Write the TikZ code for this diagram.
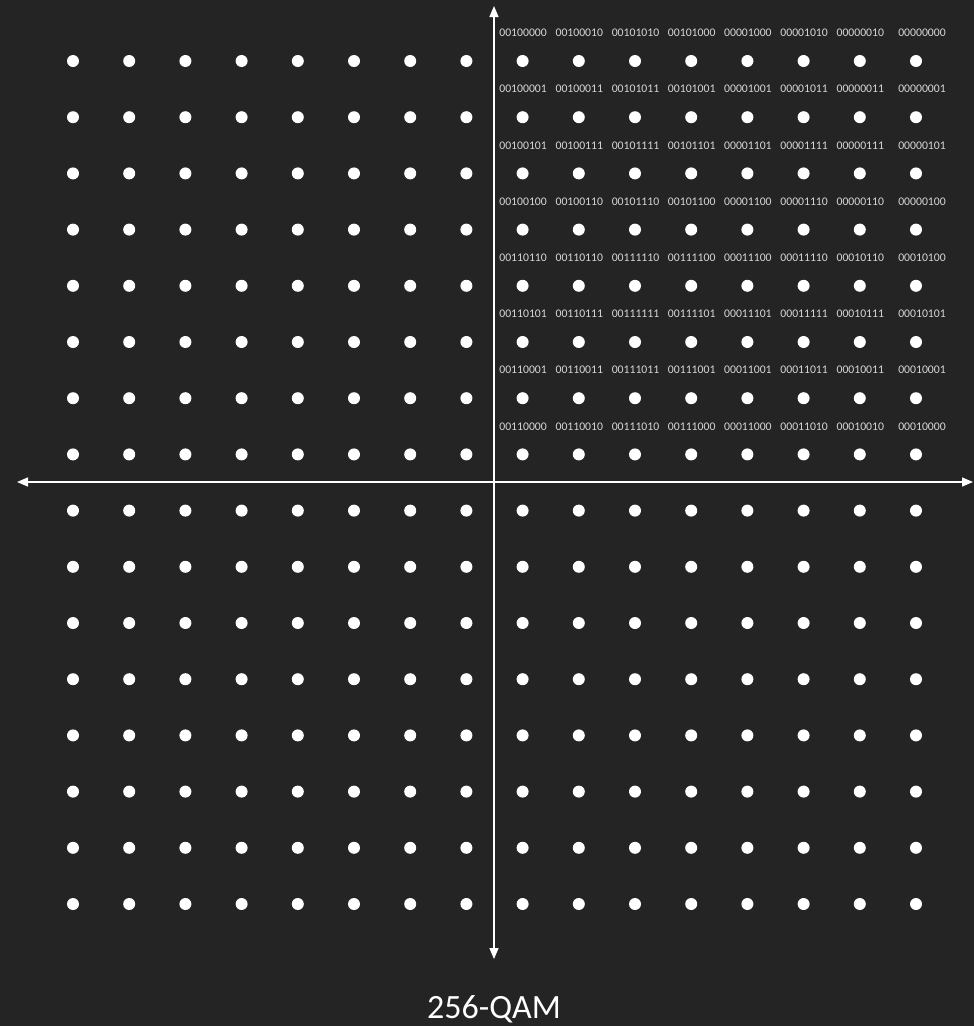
\documentclass[tikz,border=0pt]{standalone}
\usepackage{fontspec}
\setmainfont{Carlito}
\usetikzlibrary{arrows.meta}
\definecolor{board}{RGB}{36,36,36}
\definecolor{labelgray}{RGB}{215,215,215}
\begin{document}
\begin{tikzpicture}[x=1pt,y=-1pt,
  dot/.style={circle,fill=white,inner sep=0pt,minimum size=12pt},
  bits/.style={font=\fontsize{11.7}{11.7}\selectfont,text=labelgray,inner sep=0pt},
  axis/.style={draw=white,line width=1.4pt,{Triangle[length=11pt,width=9pt]}-{Triangle[length=11pt,width=9pt]}},
  title/.style={font=\fontsize{34}{34}\selectfont,text=white,inner sep=0pt}]
\fill[board] (0,0) rectangle (974,1026);
\useasboundingbox (0,0) rectangle (974,1026);
% axes
\coordinate (xl) at (17,482);
\coordinate (xr) at (973,482);
\coordinate (yt) at (494,6);
\coordinate (yb) at (494,959);
\draw[axis] (xl) -- (xr);
\draw[axis] (yt) -- (yb);
% constellation points
\foreach \i in {0,...,15}{
  \foreach \j in {0,...,15}{
    \node[dot] (d-\i-\j) at ({73+56.2*\i},{61+56.2*\j}) {};
  }
}
% bit labels (upper right quadrant)
\foreach \r [count=\j from 0] in {
 {00100000,00100010,00101010,00101000,00001000,00001010,00000010,00000000},
 {00100001,00100011,00101011,00101001,00001001,00001011,00000011,00000001},
 {00100101,00100111,00101111,00101101,00001101,00001111,00000111,00000101},
 {00100100,00100110,00101110,00101100,00001100,00001110,00000110,00000100},
 {00110110,00110110,00111110,00111100,00011100,00011110,00010110,00010100},
 {00110101,00110111,00111111,00111101,00011101,00011111,00010111,00010101},
 {00110001,00110011,00111011,00111001,00011001,00011011,00010011,00010001},
 {00110000,00110010,00111010,00111000,00011000,00011010,00010010,00010000}}{
  \foreach \l [count=\i from 8] in \r {
    \pgfmathsetmacro{\dx}{ifthenelse(\i==15,6,0.5)}
    \node[bits] (l-\i-\j) at ([xshift=\dx pt,yshift=28pt]d-\i-\j.center) {\l};
  }
}
\node[title] (t) at (494,1009) {256-QAM};
\end{tikzpicture}
\end{document}
